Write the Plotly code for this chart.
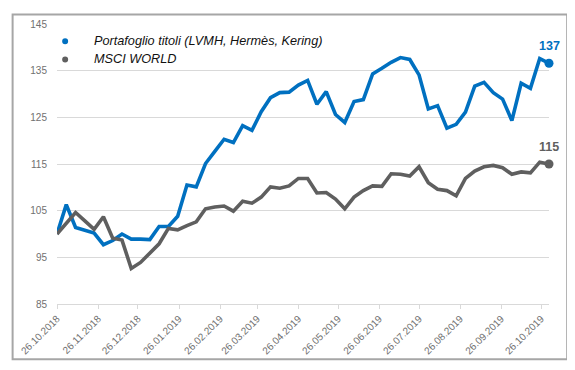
import pandas as pd
import plotly.graph_objects as go

# weekly observations starting 26.10.2018
dates = list(pd.date_range("2018-10-26", periods=54, freq="7D"))

portfolio = [100.0, 106.3, 101.4, 100.7, 100.2, 97.7, 98.6, 100.0, 98.9, 98.9,
             98.8, 101.6, 101.6, 103.8, 110.5, 110.1, 115.1, 117.7, 120.3, 119.6,
             123.2, 122.2, 126.2, 129.2, 130.3, 130.4, 131.9, 132.9, 127.8, 130.5,
             125.6, 123.9, 128.4, 128.8, 134.3, 135.5, 136.8, 137.8, 137.4, 134.1,
             126.8, 127.5, 122.7, 123.5, 126.1, 131.7, 132.5, 130.3, 128.9, 124.3,
             132.3, 131.2, 137.6, 136.6]

msci = [100.0, 102.3, 104.6, 102.8, 101.0, 103.7, 99.1, 98.7, 92.6, 93.9,
        95.8, 97.9, 101.2, 100.9, 101.8, 102.6, 105.4, 105.8, 106.0, 104.9,
        107.0, 106.6, 107.9, 110.1, 109.8, 110.3, 111.9, 111.9, 108.8, 108.9,
        107.5, 105.4, 107.9, 109.3, 110.3, 110.2, 112.9, 112.8, 112.4, 114.4,
        111.0, 109.6, 109.3, 108.2, 111.9, 113.5, 114.4, 114.7, 114.2, 112.8,
        113.3, 113.1, 115.4, 115.0]

series_names = ["Portafoglio titoli (LVMH, Hermès, Kering)", "MSCI WORLD"]
series_colors = ["#0070C0", "#5F5F5F"]
tick_dates = list(pd.date_range("2018-10-01", "2019-10-01", freq="MS") + pd.Timedelta(days=25))
y_ticks = [85, 95, 105, 115, 125, 135, 145]

FONT = "Liberation Sans, Arial, sans-serif"

# the page body adds an 8px margin, so the figure is 8px smaller and offset
OFF = 8
FW, FH = 575 - OFF, 370 - OFF

fig = go.Figure()
for vals, name, col in zip([portfolio, msci], series_names, series_colors):
    fig.add_trace(go.Scatter(x=dates, y=vals, mode="lines", name=name,
                             line=dict(color=col, width=3.6), showlegend=False,
                             cliponaxis=False))
    fig.add_trace(go.Scatter(x=[dates[-1]], y=[vals[-1]], mode="markers",
                             marker=dict(color=col, size=9), showlegend=False,
                             cliponaxis=False))
    fig.add_annotation(x=dates[-1], y=vals[-1], text=f"<b>{round(vals[-1])}</b>",
                       showarrow=False, yshift=17, xshift=0,
                       font=dict(family=FONT, size=12.5, color=col))

# plot area in page pixels
L, R, T, B = 53.3, 548.7, 18.3, 304.0
W, H = R - L, B - T
def px(xp):
    return (xp - L) / W
def py(yp):
    return (B - yp) / H

# legend (custom)
for i, (name, col) in enumerate(zip(series_names, series_colors)):
    yc = 36 + i * 18.5
    fig.add_shape(type="circle", xref="paper", yref="paper",
                  xsizemode="pixel", ysizemode="pixel",
                  xanchor=px(61.5), yanchor=py(yc), x0=-3, x1=3, y0=-3, y1=3,
                  fillcolor=col, line=dict(width=0))
    fig.add_annotation(xref="paper", yref="paper", x=px(88.5), y=py(yc),
                       xanchor="left", yanchor="middle", showarrow=False,
                       text=f"<i>{name}</i>",
                       font=dict(family=FONT, size=12.7, color="#111111"))

# outer frame
fig.add_shape(type="rect", xref="paper", yref="paper",
              x0=px(8.6), x1=px(567), y0=py(360.5), y1=py(8.6),
              line=dict(color="#A6A6A6", width=2), fillcolor="rgba(0,0,0,0)",
              layer="above")

fig.update_layout(
    width=FW, height=FH,
    margin=dict(l=L - OFF, r=575 - R, t=T - OFF, b=370 - B, pad=0),
    paper_bgcolor="white", plot_bgcolor="white",
    font=dict(family=FONT, size=10, color="#595959"),
    showlegend=False,
)
fig.update_xaxes(type="date", range=[dates[0], dates[-1]],
                 tickvals=tick_dates, ticktext=[d.strftime("%d.%m.%Y") for d in tick_dates],
                 tickangle=-45, showgrid=False, showline=True, linecolor="#D9D9D9",
                 linewidth=1, ticks="outside", ticklen=4, tickcolor="#D9D9D9",
                 tickfont=dict(size=10, color="#707070"))
fig.update_yaxes(range=[85, 145], tickvals=y_ticks, showgrid=True, gridcolor="#D9D9D9",
                 gridwidth=1, zeroline=False, showline=False, ticks="",
                 ticklabelstandoff=9, tickfont=dict(size=10, color="#707070"))

fig.write_html("out.html")
